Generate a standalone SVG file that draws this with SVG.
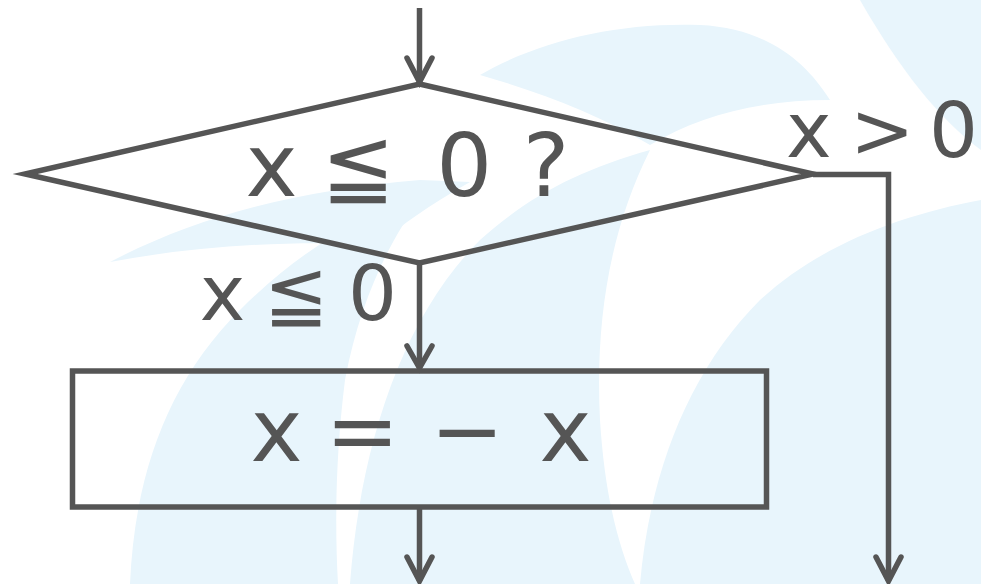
<svg xmlns="http://www.w3.org/2000/svg" width="981" height="584" viewBox="0 0 981 584">
<style>
.ln{fill:none;stroke:#555;stroke-width:5.5;stroke-linejoin:miter;stroke-miterlimit:10}
.ah{fill:none;stroke:#555;stroke-width:5.5;stroke-linecap:round;stroke-linejoin:miter}
.t{font-family:"DejaVu Sans",sans-serif;fill:#555}
.bg{fill:#e8f5fc}
</style>
<rect width="981" height="584" fill="#fff"/>
<g id="watermark">
<path class="bg" d="M130,584 C135,470 170,380 240,310 C300,250 360,215 420,200 C390,240 360,300 345,380 C335,460 335,530 338,584 Z"/>
<path class="bg" d="M110,262 C200,215 300,190 420,180 L470,182 C430,205 400,225 380,245 C300,240 200,245 110,262 Z"/>
<path class="bg" d="M350,584 C360,450 400,320 480,240 C530,195 580,170 650,150 C610,230 595,320 600,420 C605,500 620,550 635,584 Z"/>
<path class="bg" d="M480,75 C540,40 620,22 700,25 C765,28 805,60 830,100 C760,100 700,115 650,145 C600,115 540,92 480,75 Z"/>
<path class="bg" d="M640,584 C650,470 690,370 760,300 C820,245 900,215 981,200 L981,584 Z"/>
<path class="bg" d="M860,0 L981,0 L981,150 C940,120 900,70 860,0 Z"/>
</g>
<g id="connectors">
<path class="ln" d="M419.5,8 V82"/>
<path class="ah" d="M407,58 L419.5,82 L432,58"/>
<path class="ln" d="M419.5,263 V368"/>
<path class="ah" d="M407,346 L419.5,368 L432,346"/>
<path class="ln" d="M813,174.5 H888.5 V581"/>
<path class="ah" d="M876,557 L888.5,581 L901,557"/>
<path class="ln" d="M419.5,507 V581"/>
<path class="ah" d="M407,557 L419.5,581 L432,557"/>
</g>
<g id="decision">
<path class="ln" d="M419.5,84 L813,174 L419.5,263 L25,174 Z"/>
<text class="t" x="245.4 297.5 321.6 400 436.2 492 522.7" y="196" font-size="88">x ≦ 0 ?</text>
</g>
<g id="process">
<rect class="ln" x="72.5" y="371" width="694" height="136"/>
<text class="t" x="250.4 302.5 325.6 400 430.6 505 539.4" y="461" font-size="88">x = − x</text>
</g>
<g id="labels">
<text class="t" x="199.8 245 264 330 347.9" y="320" font-size="77">x ≦ 0</text>
<text class="t" x="786 831 850 912 929" y="157" font-size="77">x &gt; 0</text>
</g>
</svg>
